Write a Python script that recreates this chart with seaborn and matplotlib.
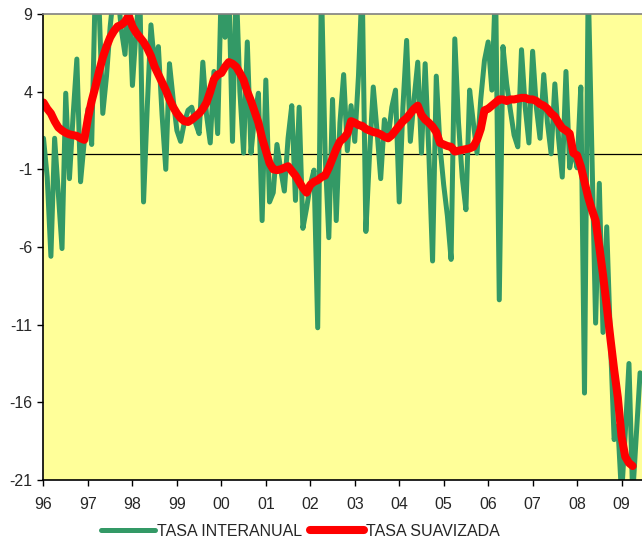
import numpy as np
import pandas as pd
import matplotlib
matplotlib.use("Agg")
import matplotlib.pyplot as plt
import seaborn as sns

# -----------------------------
# Data (monthly, Jan 1996 onwards)
# -----------------------------
tasa_interanual = [
    1.0, -1.5, -6.6, 1.0, -2.5, -6.1, 3.9, -1.6, 2.5, 6.1, -1.8, 0.8,
    2.9, 0.6, 11.0, 9.5, 2.6, 5.0, 8.2, 10.5, 10.5, 8.0, 6.4, 10.5,
    4.4, 8.0, 10.5, -3.1, 3.0, 8.3, 5.6, 6.9, 2.5, -1.0, 5.8, 3.5,
    1.5, 0.8, 2.0, 2.8, 3.0, 2.0, 1.3, 5.9, 2.5, 0.7, 5.3, 1.3,
    11.0, 7.5, 11.0, 0.8, 11.0, 4.0, 0.05, 7.2, 0.05, 2.5, 3.9, -4.3,
    4.75, -3.1, -2.5, 0.6, -1.0, -2.4, 1.0, 3.1, -3.0, 3.0, -4.8, -3.5,
    -2.0, -1.05, -11.2, 11.0, 0.0, -5.4, 3.5, -4.3, 2.0, 5.1, 0.2, 3.1,
    0.8, 5.0, 11.0, -5.0, 0.0, 4.3, 1.5, -1.6, 2.2, 1.0, 3.0, 4.1,
    -3.1, 3.0, 7.3, 0.8, 3.5, 5.9, 0.05, 5.8, 0.0, -6.9, 5.0, 0.5,
    -2.0, -4.0, -6.8, 7.4, 2.0, -1.5, -3.6, 4.1, 2.0, 0.05, 3.5, 6.0,
    7.2, 4.1, 11.0, -9.4, 6.9, 4.5, 2.8, 1.2, 0.45, 6.7, 3.0, 0.7,
    6.6, 3.0, 1.0, 5.1, 2.0, 0.0, 4.5, 1.0, -1.5, 5.3, -0.9, 0.4,
    -0.9, 4.3, -15.4, 11.0, 0.0, -10.9, -1.9, -11.5, -4.7, -12.0, -18.4, -17.5,
    -22.0, -18.0, -13.5, -22.0, -18.0, -14.1,
]

tasa_suavizada = [
    3.3, 2.9, 2.6, 2.1, 1.7, 1.5, 1.35, 1.25, 1.2, 1.15, 1.0, 0.9,
    2.3, 3.4, 4.3, 5.3, 6.2, 6.9, 7.5, 7.9, 8.2, 8.3, 8.5, 8.9,
    8.2, 7.8, 7.5, 7.2, 6.8, 6.3, 5.6, 5.1, 4.6, 4.1, 3.5, 3.0,
    2.6, 2.3, 2.1, 2.05, 2.2, 2.4, 2.6, 2.9, 3.3, 4.0, 4.8, 5.1,
    5.2, 5.6, 5.9, 5.8, 5.6, 5.2, 4.75, 4.0, 3.4, 2.7, 2.0, 1.0,
    0.2, -0.6, -1.0, -1.05, -1.0, -0.9, -0.8, -1.1, -1.4, -1.8, -2.2, -2.5,
    -2.0, -1.8, -1.7, -1.5, -1.4, -0.9, -0.3, 0.3, 0.8, 1.0, 1.3, 2.1,
    2.0, 1.85, 1.8, 1.6, 1.5, 1.4, 1.35, 1.25, 1.1, 1.0, 1.2, 1.5,
    1.8, 2.1, 2.3, 2.6, 2.9, 3.1, 2.5, 2.2, 2.0, 1.75, 1.4, 0.7,
    0.6, 0.5, 0.45, 0.15, 0.2, 0.25, 0.3, 0.35, 0.45, 0.9, 1.6, 2.8,
    2.9, 3.1, 3.3, 3.5, 3.5, 3.4, 3.5, 3.5, 3.55, 3.6, 3.6, 3.5,
    3.5, 3.4, 3.2, 3.1, 2.9, 2.6, 2.4, 2.0, 1.65, 1.5, 1.3, 0.05,
    -0.1, -0.8, -1.8, -2.8, -3.6, -4.3, -6.0, -7.8, -9.8, -11.9, -13.9, -15.7,
    -18.2, -19.5, -19.9, -20.1,
]

years = list(range(1996, 2010))
year_labels = ["96", "97", "98", "99", "00", "01", "02", "03", "04", "05", "06", "07", "08", "09"]
y_ticks = [9, 4, -1, -6, -11, -16, -21]

df_int = pd.DataFrame({
    "fecha": 1996 + np.arange(len(tasa_interanual)) / 12,
    "valor": tasa_interanual,
})
df_suav = pd.DataFrame({
    "fecha": 1996 + np.arange(len(tasa_suavizada)) / 12,
    "valor": tasa_suavizada,
})

# -----------------------------
# Style
# -----------------------------
sns.set_style("white")
plt.rcParams["font.family"] = ["Liberation Sans", "DejaVu Sans"]
plt.rcParams["axes.unicode_minus"] = False

green = "#339966"
red = "#FF0000"

fig = plt.figure(figsize=(6.42, 5.48), dpi=100)
ax = fig.add_axes([43.5 / 642, 1 - 480 / 548, 1 - 43.5 / 642, (480 - 14) / 548])
ax.set_facecolor("#FFFF99")

sns.lineplot(data=df_int, x="fecha", y="valor", color=green, linewidth=3.6,
             label="TASA INTERANUAL", ax=ax, solid_capstyle="round", solid_joinstyle="round")
sns.lineplot(data=df_suav, x="fecha", y="valor", color=red, linewidth=5.8,
             label="TASA SUAVIZADA", ax=ax, solid_capstyle="round", solid_joinstyle="round")

ax.axhline(0, color="black", linewidth=0.9, zorder=1)

ax.set_xlim(1996, 2009.46)
ax.set_ylim(-21, 9)
ax.set_xticks(years)
ax.set_xticklabels(year_labels)
ax.set_yticks(y_ticks)
ax.set_yticklabels([str(v) for v in y_ticks])
ax.set_xlabel("")
ax.set_ylabel("")

ax.tick_params(axis="both", direction="out", length=4, width=1, color="black",
               labelsize=11.5, bottom=True, left=True)
ax.tick_params(axis="x", pad=8.5)
ax.tick_params(axis="y", pad=4)

for side in ["left", "bottom"]:
    ax.spines[side].set_color("black")
    ax.spines[side].set_linewidth(1.2)
ax.spines["top"].set_color("#808080")
ax.spines["top"].set_linewidth(1.2)
ax.spines["right"].set_visible(False)

ax.get_legend().remove()
handles, labels = ax.get_legend_handles_labels()
fig.legend(handles, labels, loc="center", bbox_to_anchor=(300 / 642, 1 - 531 / 548),
           ncol=2, frameon=False, fontsize=11.5, handlelength=3.4,
           handletextpad=0.1, columnspacing=0.5)

plt.savefig("out.png", dpi=100)
